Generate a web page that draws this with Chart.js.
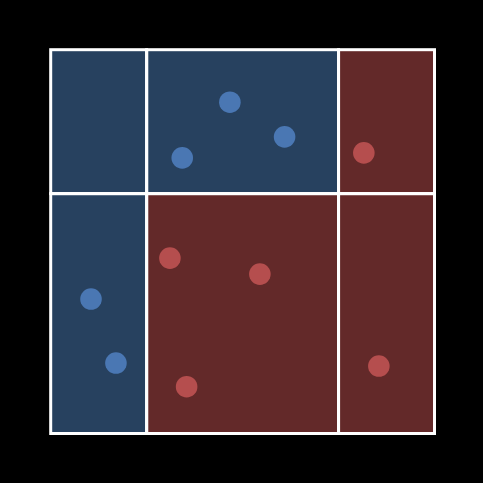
<!DOCTYPE html>
<html>
<head>
<meta charset="utf-8">
<style>
  html, body { margin: 0; padding: 0; background: #000; }
  #wrap { width: 483px; height: 483px; }
</style>
<script src="https://cdn.jsdelivr.net/npm/chart.js@4/dist/chart.umd.min.js"></script>
</head>
<body>
<div id="wrap"><canvas id="c" width="483" height="483"></canvas></div>
<script>
// Class 0 = blue, class 1 = red
const blueX = [3.735, 4.875, 2.742, 0.840, 1.360];
const blueY = [6.906, 6.183, 5.746, 2.802, 1.469];
const redX  = [6.527, 2.485, 4.360, 2.833, 6.840];
const redY  = [5.850, 3.656, 3.323, 0.975, 1.406];

// Decision regions (leaf rectangles)
const regionX0 = [0, 2, 6, 0, 2, 6];
const regionX1 = [2, 6, 8, 2, 6, 8];
const regionY0 = [5, 5, 5, 0, 0, 0];
const regionY1 = [8, 8, 8, 5, 5, 5];
const regionClass = [0, 0, 1, 0, 1, 1];

const regionColors = ['#27415f', '#632929'];
const pointColors = ['#4a77b3', '#b54e4e'];

const regionsPlugin = {
  id: 'regions',
  beforeDatasetsDraw(chart) {
    const { ctx, scales: { x, y } } = chart;
    ctx.save();
    for (let i = 0; i < regionX0.length; i++) {
      const l = x.getPixelForValue(regionX0[i]);
      const r = x.getPixelForValue(regionX1[i]);
      const t = y.getPixelForValue(regionY1[i]);
      const b = y.getPixelForValue(regionY0[i]);
      ctx.fillStyle = regionColors[regionClass[i]];
      ctx.fillRect(l, t, r - l, b - t);
    }
    ctx.strokeStyle = '#ffffff';
    ctx.lineWidth = 3;
    for (let i = 0; i < regionX0.length; i++) {
      const l = x.getPixelForValue(regionX0[i]);
      const r = x.getPixelForValue(regionX1[i]);
      const t = y.getPixelForValue(regionY1[i]);
      const b = y.getPixelForValue(regionY0[i]);
      ctx.strokeRect(l, t, r - l, b - t);
    }
    ctx.restore();
  }
};

const toPts = (xs, ys) => xs.map((v, i) => ({ x: v, y: ys[i] }));

new Chart(document.getElementById('c'), {
  type: 'scatter',
  data: {
    datasets: [
      { data: toPts(blueX, blueY), backgroundColor: pointColors[0], borderWidth: 0, pointRadius: 10.8, pointHoverRadius: 10.8 },
      { data: toPts(redX, redY), backgroundColor: pointColors[1], borderWidth: 0, pointRadius: 10.8, pointHoverRadius: 10.8 }
    ]
  },
  options: {
    responsive: false,
    animation: false,
    events: [],
    layout: { padding: { left: 50.7, right: 48.5, top: 49.7, bottom: 49.5 } },
    plugins: { legend: { display: false }, tooltip: { enabled: false } },
    scales: {
      x: { type: 'linear', min: 0, max: 8, display: false },
      y: { type: 'linear', min: 0, max: 8, display: false }
    }
  },
  plugins: [regionsPlugin]
});
</script>
</body>
</html>
